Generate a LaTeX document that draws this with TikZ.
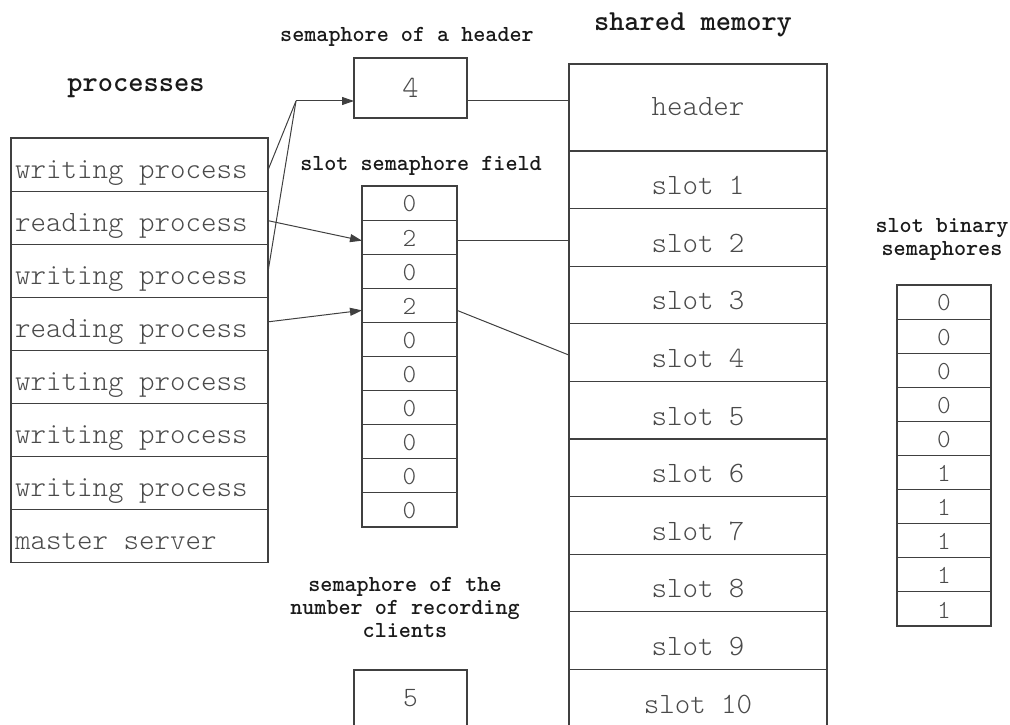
\documentclass[tikz,border=0pt]{standalone}
\usepackage{fontspec}
\setmainfont{lmmonolt10-regular.otf}[BoldFont=lmmonolt10-bold.otf]
\usetikzlibrary{arrows.meta,calc}
\definecolor{linec}{HTML}{404040}
\definecolor{txtc}{HTML}{4A4A4A}
\definecolor{lblc}{HTML}{1A1A1A}
\tikzset{
  cell/.style={draw=linec, line width=1.1pt, rectangle, inner sep=0pt, outer sep=0pt},
  ptext/.style={anchor=base west, text=txtc, inner sep=0pt, font=\fontsize{29.5}{29.5}\selectfont},
  stext/.style={anchor=base, text=txtc, inner sep=0pt, font=\fontsize{29.5}{29.5}\selectfont},
  ntext/.style={anchor=center, text=txtc, inner sep=0pt, font=\fontsize{26}{26}\selectfont},
  biglbl/.style={text=lblc, inner sep=0pt, font=\fontsize{29}{29}\selectfont\bfseries},
  smalllbl/.style={text=lblc, inner sep=0pt, align=center, font=\fontsize{23}{23}\selectfont\bfseries},
  conn/.style={draw=linec, line width=1pt},
  arr/.style={conn, -{Triangle[length=12pt,width=8pt]}}
}
\begin{document}
\begin{tikzpicture}[x=1pt,y=-1pt]
\useasboundingbox (0,0) rectangle (1010,725);

% processes
\foreach \t [count=\i] in {writing process,reading process,writing process,reading process,writing process,writing process,writing process,master server}{
  \node[cell, minimum width=257pt, minimum height=53.1pt] (p\i) at (139.5,{138+53.1*(\i-1)+26.55}) {};
  \node[ptext] (pt\i) at ([xshift=4pt,yshift=13pt]p\i.south west) {\t};
}
\node[biglbl] (lproc) at (136,88) {processes};

% semaphore of a header
\node[cell, minimum width=113pt, minimum height=60pt] (hs) at (410.5,88) {};
\node[ntext, font=\fontsize{31}{31}\selectfont] (hst) at (hs.center) {4};
\node[smalllbl] (lhs) at (407,37) {semaphore of a header};

% slot semaphore field
\foreach \v [count=\i] in {0,2,0,2,0,0,0,0,0,0}{
  \node[cell, minimum width=95pt, minimum height=34.1pt] (f\i) at (409.5,{186+34.1*(\i-1)+17.05}) {};
  \node[ntext] (ft\i) at ([yshift=-1pt]f\i.center) {\v};
}
\node[smalllbl] (lf) at (421,166) {slot semaphore field};

% shared memory
\node[cell, minimum width=258pt, minimum height=87pt] (hdr) at (698,107.5) {};
\node[stext] (hdrt) at ([yshift=-7.5pt]hdr.center) {header};
\foreach \i in {1,...,10}{
  \node[cell, minimum width=258pt, minimum height=57.6pt] (s\i) at (698,{151+57.6*(\i-1)+28.8}) {};
  \node[stext] (st\i) at ([yshift=14pt]s\i.south) {slot \i};
}
\node[biglbl] (lsm) at (693,25) {shared memory};

% slot binary semaphores
\foreach \v [count=\i] in {0,0,0,0,0,1,1,1,1,1}{
  \node[cell, minimum width=94pt, minimum height=34.1pt] (b\i) at (944,{285+34.1*(\i-1)+17.05}) {};
  \node[ntext] (bt\i) at ([yshift=-1pt]b\i.center) {\v};
}
\node[smalllbl] (lb) at (942,239) {slot binary\\semaphores};

% clients semaphore
\node[cell, minimum width=113pt, minimum height=60pt] (cs) at (410.5,700) {};
\node[ntext, font=\fontsize{28}{28}\selectfont] (cst) at ([yshift=2pt]cs.center) {5};
\node[smalllbl] (lc) at (405,607) {semaphore of the\\number of recording\\clients};

% connectors
\coordinate (j) at (296,101);
\draw[conn] ([yshift=-5.5pt]p1.east) -- (j);
\draw[conn] ([yshift=-1pt]p3.east) -- (j);
\draw[arr] (j) -- (j -| hs.west);
\draw[arr] ([yshift=-3pt]p2.east) -- ([yshift=-3.5pt]f2.west);
\draw[arr] ([yshift=2pt]p4.east) -- ([yshift=-5pt]f4.west);
\draw[conn] ([yshift=-13pt]hs.east) -- ([yshift=-13pt]hs.east -| hdr.west);
\draw[conn] ([yshift=-3pt]f2.east) -- ([yshift=-3pt]f2.east -| s2.west);
\draw[conn] ([yshift=-5pt]f4.east) -- ([yshift=-2.5pt]s4.west);
\end{tikzpicture}
\end{document}
